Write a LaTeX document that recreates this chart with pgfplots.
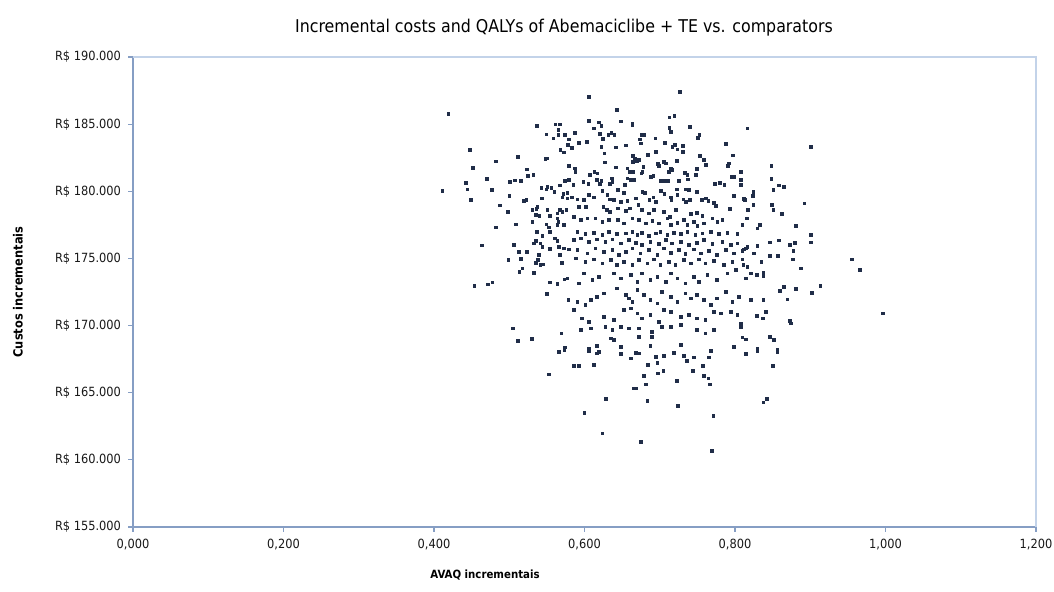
\documentclass[border=0pt]{standalone}
\usepackage{pgfplots}
\pgfplotsset{compat=1.18}
\usepackage{fontspec}
\setmainfont{DejaVu Sans Condensed}
\definecolor{axisblue}{RGB}{134,158,196}
\definecolor{framebl}{RGB}{195,211,233}
\definecolor{dotc}{RGB}{32,45,72}
\begin{document}
\begin{tikzpicture}[x=1pt,y=1pt]
\path[use as bounding box] (-99.75,-48.75) rectangle (690.75,395.25);
\begin{axis}[
 at={(0,0)}, anchor=south west, scale only axis,
 width=677.25pt, height=352.5pt,
 xmin=0, xmax=1.2, ymin=155000, ymax=190000,
 axis lines=left, axis line style={draw=axisblue, line width=1.1pt, -},
 xtick={0,0.2,0.4,0.6,0.8,1.0,1.2},
 xticklabels={{0,000},{0,200},{0,400},{0,600},{0,800},{1,000},{1,200}},
 ytick={155000,160000,165000,170000,175000,180000,185000,190000},
 yticklabels={R\$ 155.000,R\$ 160.000,R\$ 165.000,R\$ 170.000,R\$ 175.000,R\$ 180.000,R\$ 185.000,R\$ 190.000},
 tick align=outside, major tick length=3.5pt,
 tick style={draw=axisblue, line width=0.8pt},
 tick label style={font=\fontsize{9.5}{11}\selectfont, text=black!90},
 xticklabel style={yshift=-2pt},
 yticklabel style={xshift=-2pt},
 scaled ticks=false, clip=false,
]
\addplot[only marks, mark=square*, mark size=1pt, draw=dotc, fill=dotc] table {
x y
0.419 185755
0.5365 184884
0.561 184988
0.5667 184990
0.549 184243
0.565 184564
0.565 184191
0.5737 184190
0.5587 183946
0.579 183871
0.5777 183447
0.4474 183074
0.568 183074
0.5724 182903
0.5112 182553
0.5477 182404
0.5503 182456
0.4825 182233
0.4519 181734
0.579 181883
0.5237 181637
0.5245 181138
0.5317 181235
0.47 180937
0.5011 180714
0.5072 180818
0.5152 180766
0.4426 180639
0.4443 180148
0.411 180044
0.4772 180096
0.5424 180244
0.549 180148
0.5503 180341
0.5557 180244
0.56 179947
0.5671 180445
0.5737 180788
0.579 180840
0.5716 179798
0.577 179894
0.5703 179552
0.577 179477
0.4998 179671
0.4492 179351
0.5192 179276
0.5224 179351
0.5432 179477
0.4873 178956
0.5374 178852
0.5357 178681
0.5304 178606
0.5503 178628
0.4979 178457
0.5348 178234
0.5401 178159
0.5534 178159
0.5636 178360
0.5671 178606
0.5703 178480
0.5756 178606
0.5636 177988
0.565 177735
0.5304 177735
0.5086 177541
0.4825 177318
0.549 177541
0.5525 177318
0.5636 177489
0.5724 177489
0.6053 187021
0.7263 187394
0.6425 186050
0.7126 185509
0.7192 185606
0.6056 185234
0.6189 185137
0.6225 184884
0.6482 185211
0.6634 185063
0.6634 184936
0.7126 184735
0.7143 184415
0.7396 184809
0.6123 184690
0.587 184363
0.6314 184191
0.6354 184363
0.6394 184191
0.6757 184191
0.6788 184191
0.6735 183871
0.6203 184266
0.7525 184191
0.7503 183968
0.694 183946
0.6026 183692
0.592 183596
0.6239 183915
0.6225 183320
0.6548 183424
0.6744 183573
0.7067 183618
0.7878 183521
0.7165 183320
0.72 183447
0.7232 183126
0.7302 183372
0.7306 182925
0.6412 183276
0.583 183223
0.6841 182724
0.6943 182925
0.6262 182828
0.6642 182627
0.6669 182456
0.6639 182203
0.6692 182277
0.6722 182329
0.7533 182650
0.7968 182680
0.7919 182084
0.7905 181883
0.7586 182329
0.7609 181957
0.7223 182277
0.6266 182158
0.6972 182032
0.7056 182181
0.7079 182084
0.6989 181883
0.587 181711
0.5879 181458
0.6416 181786
0.6567 181711
0.6598 181458
0.6642 181458
0.678 181831
0.6767 181458
0.6754 181339
0.7143 181711
0.712 181458
0.7165 181585
0.7333 181384
0.7365 181213
0.7373 180892
0.7475 181213
0.7493 181659
0.6128 181458
0.6168 181339
0.607 181213
0.6877 181086
0.6913 181138
0.701 180788
0.7054 180788
0.7107 180788
0.7253 180788
0.6361 180967
0.637 180714
0.6338 180542
0.6159 180840
0.6225 180766
0.6203 180542
0.6535 180468
0.6567 180967
0.6611 180840
0.6655 180840
0.6048 180542
0.5982 180714
0.5849 180468
0.7728 180542
0.7795 180639
0.7857 180468
0.7954 181086
0.7985 181086
0.7985 179649
0.7346 180148
0.7386 180095
0.7493 179969
0.7223 180148
0.7232 179745
0.701 180043
0.7059 179798
0.6767 179969
0.6798 179894
0.6438 180095
0.6526 179894
0.6234 180043
0.6301 179723
0.6056 179723
0.6123 179552
0.599 179351
0.5902 179403
0.5835 179552
0.6338 179403
0.6391 179351
0.648 179224
0.6567 179299
0.6678 179477
0.6714 178978
0.6861 179351
0.6913 179552
0.6943 179224
0.7143 179552
0.7152 179351
0.7312 179403
0.7346 179224
0.7399 179351
0.7559 179351
0.7609 179477
0.7645 179299
0.772 179150
0.7746 178904
0.7928 178680
0.5923 178852
0.6017 178852
0.6248 178852
0.6292 178606
0.6338 178480
0.6438 178733
0.6547 178554
0.6604 178733
0.6757 178606
0.6854 178360
0.6921 178606
0.7054 178480
0.7134 178107
0.721 178606
0.741 178308
0.7489 178404
0.7565 178159
0.7698 177988
0.7764 177735
0.7831 177861
0.5857 178107
0.5946 177861
0.6035 177988
0.6145 177988
0.6234 177735
0.6322 177861
0.6438 177861
0.6526 177616
0.6634 177988
0.6722 177861
0.6811 177616
0.69 177809
0.6988 177616
0.71 177988
0.7143 177489
0.7232 177660
0.7321 177861
0.7365 177489
0.7453 177735
0.7498 177415
0.7586 177616
0.8164 184690
0.9006 183320
0.8483 181883
0.8075 181458
0.8483 180915
0.8075 180840
0.8075 180468
0.851 180096
0.8585 180445
0.8651 180341
0.8244 179969
0.8239 179649
0.8119 179447
0.8132 179351
0.8244 178978
0.8172 178606
0.8487 178978
0.851 178606
0.8922 179105
0.862 178308
0.8155 177988
0.8098 177489
0.8297 177243
0.8332 177489
0.8807 177415
0.4639 175977
0.5059 176022
0.5126 175501
0.5237 175501
0.4985 174883
0.5157 174957
0.5325 176126
0.5348 176298
0.5414 176126
0.5437 175873
0.537 176990
0.5437 176670
0.5534 176990
0.5604 176499
0.5636 176298
0.5724 175754
0.579 175680
0.5657 175873
0.5671 175255
0.5534 175702
0.5392 175255
0.5379 174883
0.5348 174681
0.5361 174637
0.5414 174510
0.545 174562
0.5694 174681
0.5135 174011
0.5171 174265
0.5325 173937
0.5733 173445
0.577 173520
0.5534 173222
0.5636 173095
0.4536 172946
0.4718 173073
0.4776 173222
0.5498 172373
0.5783 171904
0.5051 169797
0.5112 168851
0.5303 169022
0.569 169424
0.5737 168381
0.5902 176993
0.6012 176819
0.6123 176918
0.6234 176745
0.6322 176993
0.6433 176819
0.6544 176869
0.6633 176993
0.6699 176745
0.6765 176918
0.6854 176670
0.6943 176869
0.7009 176993
0.7098 176745
0.7186 176918
0.7275 176819
0.7364 176993
0.7474 176745
0.7563 176869
0.7674 176993
0.7784 176819
0.7895 176918
0.8028 176819
0.5857 176372
0.5946 176497
0.6057 176248
0.6167 176422
0.6278 176248
0.6367 176422
0.6478 176124
0.6588 176372
0.6677 176174
0.6765 176000
0.6876 176248
0.6987 176075
0.7076 176372
0.7164 176124
0.7275 176248
0.7386 176000
0.7496 176174
0.7585 176372
0.7696 176075
0.7829 176248
0.794 176000
0.8028 176124
0.5902 175628
0.6035 175380
0.6145 175752
0.6256 175504
0.6367 175628
0.6455 175256
0.6544 175504
0.6633 175752
0.6743 175380
0.6854 175628
0.6965 175256
0.7053 175752
0.7142 175429
0.7253 175628
0.7341 175330
0.7452 175677
0.7541 175380
0.7651 175578
0.7762 175256
0.7873 175628
0.7984 175380
0.588 175007
0.6012 174759
0.6123 174933
0.6234 174635
0.6345 174883
0.6433 174511
0.6522 174759
0.6633 174511
0.6721 174883
0.6832 174635
0.692 174933
0.7009 174511
0.712 174759
0.7208 174511
0.7319 174883
0.7408 174635
0.7519 174933
0.7607 174635
0.7718 174834
0.7851 174511
0.7962 174759
0.599 173890
0.6101 173394
0.619 173642
0.6389 173890
0.6478 173518
0.6611 173766
0.67 173270
0.6765 173890
0.6876 173394
0.6965 173642
0.7076 173270
0.7142 173890
0.7231 173518
0.7341 173145
0.7452 173642
0.7519 173270
0.763 173766
0.7762 173394
0.7895 173890
0.8006 174139
0.5924 173145
0.5902 171781
0.6012 171532
0.6079 171905
0.6167 172153
0.6256 172401
0.6433 172773
0.6544 172277
0.6588 172029
0.6633 171781
0.6699 172649
0.6788 172277
0.6876 171905
0.6965 171656
0.7031 172525
0.7142 172153
0.7231 171781
0.7341 172401
0.7408 172029
0.7496 172277
0.7585 171905
0.7674 171532
0.7762 172029
0.7873 172525
0.7962 171781
0.805 172153
0.5857 171160
0.5968 170540
0.6057 170291
0.6256 170664
0.6389 170416
0.6522 171160
0.6611 171284
0.67 170912
0.6765 170540
0.6876 170788
0.6987 170291
0.7053 171160
0.7142 171036
0.7275 170664
0.7386 170788
0.7496 170540
0.7607 170416
0.7718 171036
0.7807 170912
0.794 171036
0.8028 170788
0.5946 169671
0.6079 169795
0.6278 169919
0.6367 169671
0.6478 169919
0.6588 169795
0.6721 169795
0.6898 169547
0.6898 169175
0.7031 169919
0.7142 169919
0.7275 170043
0.7496 169671
0.7607 169423
0.7718 169671
0.6345 169050
0.6389 168926
0.6721 169175
0.6057 168306
0.6167 168480
0.6478 168430
0.6876 168480
0.7275 168554
0.7984 168430
0.9005 176770
0.9005 176199
0.846 176199
0.8584 176348
0.8726 176025
0.8793 176174
0.8297 175926
0.8164 175876
0.8119 175677
0.8141 175752
0.8097 175578
0.8252 175380
0.8775 175553
0.846 175181
0.8567 175181
0.8771 174933
0.8097 174933
0.811 174511
0.8164 174387
0.835 174759
0.955 174933
0.9661 174139
0.8872 174263
0.8208 173890
0.8288 173766
0.8376 173965
0.8376 173692
0.8141 173518
0.8598 172600
0.8651 172898
0.881 172749
0.9023 172451
0.9134 172947
0.8695 171954
0.8208 171905
0.8376 171905
0.8412 171036
0.8288 170714
0.8367 170540
0.8726 170366
0.8744 170168
0.8075 170168
0.8075 169919
0.9962 170912
0.8097 169125
0.8141 168976
0.846 169175
0.8518 168926
0.8297 168306
0.8562 168231
0.5656 168056
0.5528 166368
0.5731 168180
0.6057 168106
0.6167 167932
0.619 168056
0.6478 167882
0.6611 167560
0.6677 167981
0.6721 167932
0.6943 167684
0.6965 167237
0.7053 167758
0.7186 167981
0.7319 167733
0.7355 167386
0.7452 167634
0.7651 167634
0.7674 168106
0.5857 166989
0.5924 166989
0.6123 167063
0.6841 167063
0.7576 166989
0.6788 166244
0.6978 166443
0.7045 166616
0.7443 166641
0.7585 166244
0.7643 166070
0.7665 165623
0.7222 165872
0.6655 165326
0.6686 165326
0.681 165623
0.6283 164531
0.6832 164383
0.724 164035
0.7709 163266
0.5999 163489
0.6234 161975
0.6752 161355
0.7687 160684
0.8146 167882
0.8297 168130
0.8562 168056
0.85 167013
0.8376 164283
0.8425 164556
};
\draw[framebl, line width=1.1pt] (rel axis cs:0,1) -- (rel axis cs:1,1) -- (rel axis cs:1,0);
\end{axis}
\node at (323.25,374.25) {\fontsize{13.2}{15}\selectfont Incremental costs and QALYs of Abemaciclibe + TE vs. comparators};
\node at (264,-36) {\fontsize{8.5}{10}\selectfont\bfseries AVAQ incrementais};
\node[rotate=90] at (-86.25,176.25) {\fontsize{9.5}{11}\selectfont\bfseries Custos incrementais};
\end{tikzpicture}
\end{document}
